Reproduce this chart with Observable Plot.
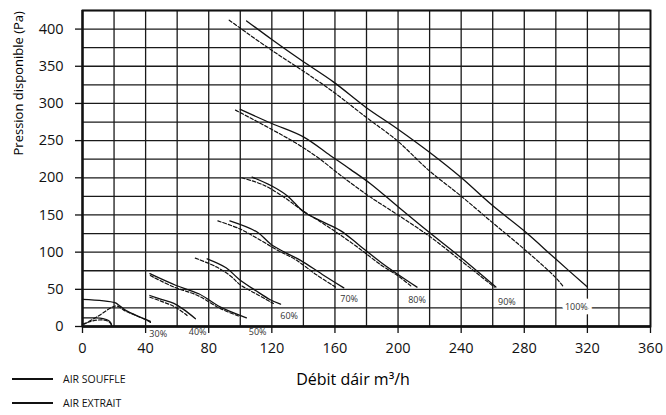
<!DOCTYPE html>
<html><head><meta charset="utf-8">
<script src="https://cdn.jsdelivr.net/npm/d3@7"></script>
<script src="https://cdn.jsdelivr.net/npm/@observablehq/plot@0.6"></script>
<style>
body{margin:0;background:#fff;font-family:"Open Sans",sans-serif;}
#wrap{position:relative;width:666px;height:415px;}
.leg{position:absolute;left:12px;display:flex;align-items:center;font-size:10.5px;color:#111;line-height:1;}
.leg .l{display:inline-block;width:41px;height:0;border-top:2px solid #111;margin-right:10px;}
</style></head><body><div id="wrap"></div>
<script>
// Tick values
const xTicks = [0, 40, 80, 120, 160, 200, 240, 280, 320, 360];
const yTicks = [0, 50, 100, 150, 200, 250, 300, 350, 400];
const xGrid = d3.range(0, 361, 20);
const yGrid = d3.range(0, 426, 25);

// Curves: AIR SOUFFLE (solid) and AIR EXTRAIT (dashed), [débit, pression]
const souffle20 = [[0,11.5],[8,11.5],[13,10.5],[16.5,8],[18,4.5],[18.4,1]];
const extrait20 = [[0,3],[4,6],[9,8.5],[14,8.5],[17,6],[18.5,2]];
const souffle30 = [[0,36.5],[20.5,32],[23.5,28],[28,21],[33,16],[43,7]];
const extrait30 = [[1,3],[10,14],[18.8,26],[22,27.5],[27,21],[33,15.5],[41,8],[43.5,5]];
const souffle40 = [[42.7,41.7],[50,36.5],[57.9,31],[64,23],[71.6,10.5]];
const extrait40 = [[42.7,39.4],[51.5,32.7],[58.9,26],[66.3,14.8]];
const souffle50 = [[42.7,71],[59,55.5],[73.7,44],[87.5,26],[103.9,11.7]];
const extrait50 = [[43,68.5],[58,53],[72.7,42],[87.5,24],[99,14]];
const souffle60 = [[79,91],[91,79],[99,64],[110,48],[119,36],[125.5,30]];
const extrait60 = [[71.5,92],[85,80],[93.8,68],[100,56],[110,44],[121,31]];
const souffle70 = [[93.4,142],[110.7,127],[119.2,111],[128,100],[138.2,89],[152,70],[165.6,52]];
const extrait70 = [[85.8,142],[100,131],[112.8,116],[125,101],[135,90],[148,70],[160.3,53]];
const souffle80 = [[107.5,201],[120,189],[129.7,176],[140.3,154],[150,143],[163.5,129],[175,110],[189,86.5],[200,70],[212,53]];
const extrait80 = [[101,200],[115,190],[129,172],[138,158],[150,142],[163.5,123],[176,104],[189,83],[200,68],[209,53]];
const souffle90 = [[100,292],[120,273],[140,255],[157,230],[170,211],[182.5,192],[200,161],[219.5,127],[239.6,93],[262,53]];
const extrait90 = [[97,291],[120,265],[135,247],[148.7,228],[165,201],[182.5,174],[200,150],[219.5,122],[239.6,89],[261,53]];
const souffle100 = [[104,411],[120,386],[138,359],[159,329],[179.5,295],[199.5,266],[219.5,235],[239.6,201],[259.7,163],[279.7,129],[299.8,91],[320,53]];
const extrait100 = [[93,412],[99.5,402],[119.6,372],[139.6,344],[159.3,315],[179.4,282],[199.4,250],[219.5,210],[239.6,176],[259.7,140],[279.7,104.5],[299.8,66],[305,53]];

// Percentage labels
const pctLabels = ["30%", "40%", "50%", "60%", "70%", "80%", "90%", "100%"];
const pctX = [48, 73, 111, 131, 169, 212, 269, 313];
const pctY = [-10.5, -7.5, -8, 14, 37.5, 36, 32.5, 25.5];

const xTitle = "Débit dáir m³/h";
const yTitle = "Pression disponible (Pa)";
const legendNames = ["AIR SOUFFLE", "AIR EXTRAIT"];

const souffle = {s20: souffle20, s30: souffle30, s40: souffle40, s50: souffle50, s60: souffle60, s70: souffle70, s80: souffle80, s90: souffle90, s100: souffle100};
const extrait = {e20: extrait20, e30: extrait30, e40: extrait40, e50: extrait50, e60: extrait60, e70: extrait70, e80: extrait80, e90: extrait90, e100: extrait100};
const toRows = obj => Object.entries(obj).flatMap(([id, pts]) => pts.map(([x, y]) => ({id, x, y})));
const sRows = toRows(souffle);
const eRows = toRows(extrait);
const labels = pctLabels.map((t, i) => ({t, x: pctX[i], y: pctY[i]}));
const plain = labels.filter(d => d.t !== "100%");
const boxed = labels.filter(d => d.t === "100%");

const ink = "#111";
const chart = Plot.plot({
  width: 666, height: 415,
  marginLeft: 82, marginRight: 16, marginTop: 10, marginBottom: 89,
  style: {fontFamily: "'Open Sans', sans-serif", background: "white", color: ink},
  x: {domain: [0, 360]},
  y: {domain: [0, 425]},
  marks: [
    Plot.gridX(xGrid, {stroke: "#1a1a1a", strokeOpacity: 1, strokeWidth: 1.3}),
    Plot.gridY(yGrid, {stroke: "#1a1a1a", strokeOpacity: 1, strokeWidth: 1.3}),
    Plot.frame({stroke: ink, strokeWidth: 1.8}),
    Plot.axisX(xTicks, {tickSize: 7, tickPadding: 9, fontSize: 14.5, label: null, strokeWidth: 1.3}),
    Plot.axisY(yTicks, {tickSize: 7, tickPadding: 12, fontSize: 14.5, label: null, strokeWidth: 1.3}),
    Plot.ruleY([0], {stroke: ink, strokeWidth: 2.4}),
    Plot.ruleX([0], {stroke: ink, strokeWidth: 2.2}),
    Plot.line(sRows, {x: "x", y: "y", z: "id", stroke: "#111", strokeWidth: 1.3, curve: "catmull-rom"}),
    Plot.line(eRows, {x: "x", y: "y", z: "id", stroke: "#111", strokeWidth: 1.2, strokeDasharray: "3.5,2", curve: "catmull-rom"}),
    Plot.text(plain, {x: "x", y: "y", text: "t", fontSize: 9, fill: "#333"}),
    Plot.text(boxed, {x: "x", y: "y", text: "t", fontSize: 9, fill: "#333", stroke: "white", strokeWidth: 9, paintOrder: "stroke"}),
    Plot.text([xTitle], {frameAnchor: "bottom", dy: 58, dx: -13.5, fontSize: 16, fill: "#000"}),
    Plot.text([yTitle], {frameAnchor: "left", rotate: -90, dx: -64, dy: -13, fontSize: 13, fill: "#000"})
  ]
});
const wrap = document.getElementById("wrap");
wrap.appendChild(chart);
legendNames.forEach((name, i) => {
  const d = document.createElement("div");
  d.className = "leg";
  d.style.top = (i === 0 ? 374 : 398) + "px";
  d.innerHTML = '<span class="l"></span><span></span>';
  d.lastChild.textContent = name;
  wrap.appendChild(d);
});
</script></body></html>
